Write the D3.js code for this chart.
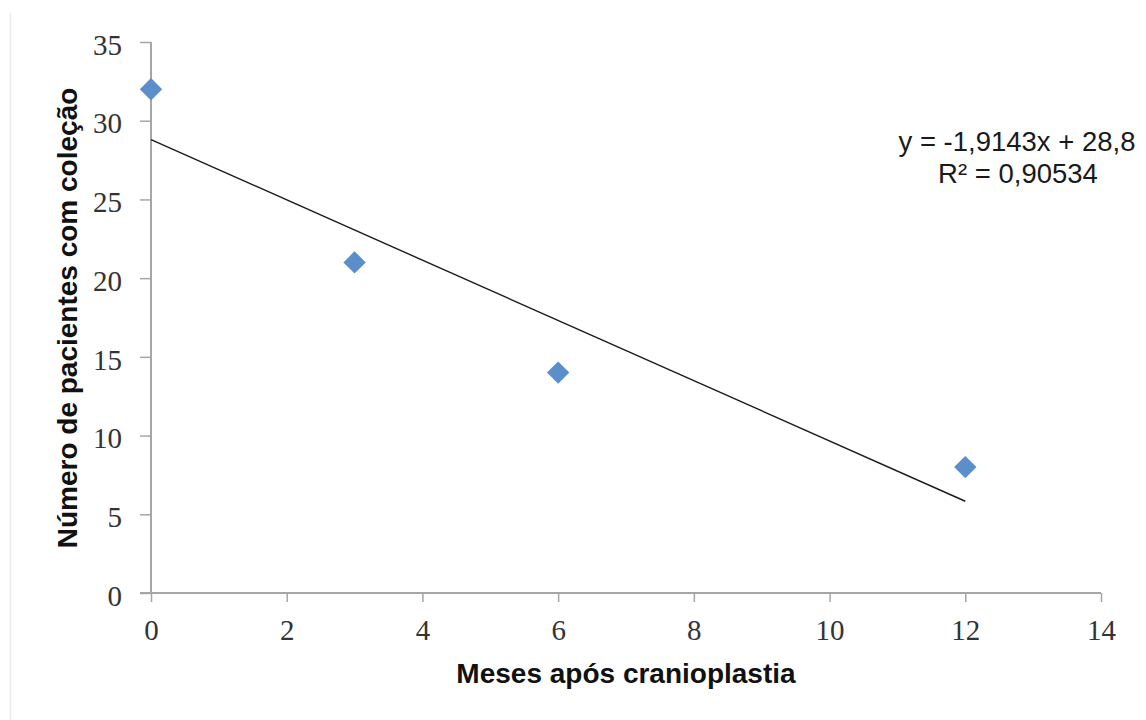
<!DOCTYPE html>
<html>
<head>
<meta charset="utf-8">
<script src="https://cdn.jsdelivr.net/npm/d3@7"></script>
<style>
  html, body { margin: 0; padding: 0; background: #fff; }
  svg { display: block; }
</style>
</head>
<body>
<script>
// Data
const months = [0, 3, 6, 12];
const patients = [32, 21, 14, 8];
const xTicks = [0, 2, 4, 6, 8, 10, 12, 14];
const yTicks = [0, 5, 10, 15, 20, 25, 30, 35];
const slope = -1.9143;
const intercept = 28.8;
const equationLabel = "y = -1,9143x + 28,8";
const r2Label = "R\u00B2 = 0,90534";
const xTitle = "Meses após cranioplastia";
const yTitle = "Número de pacientes com coleção";

const W = 1146, H = 720;
const svg = d3.select("body").append("svg").attr("width", W).attr("height", H);

const x = d3.scaleLinear().domain([0, 14]).range([151, 1101]);
const y = d3.scaleLinear().domain([0, 35]).range([593, 42]);

// faint frame edge
svg.append("line").attr("x1", 10.5).attr("x2", 10.5).attr("y1", 13).attr("y2", H)
  .attr("stroke", "#ececec").attr("stroke-width", 1.5);

const axisColor = "#a6a6a6";
const tickFont = "'Liberation Serif', 'Times New Roman', serif";

// Y axis
const yAxis = svg.append("g").attr("transform", `translate(${x(0)},0)`)
  .call(d3.axisLeft(y).tickValues(yTicks).tickSize(11).tickPadding(18).tickFormat(d3.format("d")));
// X axis
const xAxis = svg.append("g").attr("transform", `translate(0,${y(0)})`)
  .call(d3.axisBottom(x).tickValues(xTicks).tickSize(9).tickPadding(17).tickFormat(d3.format("d")));

[yAxis, xAxis].forEach(g => {
  g.select(".domain").attr("stroke", axisColor).attr("stroke-width", 2);
  g.selectAll(".tick line").attr("stroke", axisColor).attr("stroke-width", 1.5);
  g.selectAll(".tick text").attr("fill", "#333")
    .style("font-family", tickFont).style("font-size", "29px");
});
yAxis.select(".domain").attr("d", `M0,${y(35)}V${y(0)}`);
xAxis.select(".domain").attr("d", `M${x(0)},0H${x(14)}`);
yAxis.selectAll(".tick text").attr("dy", "0.42em");
xAxis.selectAll(".tick text").attr("dy", "0.71em");
// extend x axis line left to meet y tick at 0
xAxis.append("line").attr("x1", x(0) - 11).attr("x2", x(0)).attr("y1", 0).attr("y2", 0)
  .attr("stroke", axisColor).attr("stroke-width", 2);

// Trendline
svg.append("line")
  .attr("x1", x(0)).attr("y1", y(intercept))
  .attr("x2", x(12)).attr("y2", y(intercept + slope * 12))
  .attr("stroke", "#1a1a1a").attr("stroke-width", 1.4);

// Markers
const diamond = d3.symbol().type(d3.symbolSquare).size(250);
svg.selectAll(".pt").data(months.map((m, i) => [m, patients[i]])).enter()
  .append("path")
  .attr("d", diamond)
  .attr("transform", d => `translate(${x(d[0])},${y(d[1])}) rotate(45)`)
  .attr("fill", "#5a8fcb");

// Equation
const sans = "'Liberation Sans', Arial, sans-serif";
svg.append("text").attr("x", 1017).attr("y", 151).attr("text-anchor", "middle")
  .style("font-family", sans).style("font-size", "27.5px").attr("fill", "#1a1a1a")
  .text(equationLabel);
svg.append("text").attr("x", 1018).attr("y", 183).attr("text-anchor", "middle")
  .style("font-family", sans).style("font-size", "27.5px").attr("fill", "#1a1a1a")
  .text(r2Label);

// Axis titles
svg.append("text").attr("x", 626).attr("y", 683).attr("text-anchor", "middle")
  .style("font-family", sans).style("font-size", "28px").style("font-weight", "bold")
  .attr("fill", "#111").text(xTitle);
svg.append("text").attr("transform", `translate(77,318) rotate(-90)`).attr("text-anchor", "middle")
  .style("font-family", sans).style("font-size", "28px").style("font-weight", "bold")
  .attr("fill", "#111").text(yTitle);
</script>
</body>
</html>
